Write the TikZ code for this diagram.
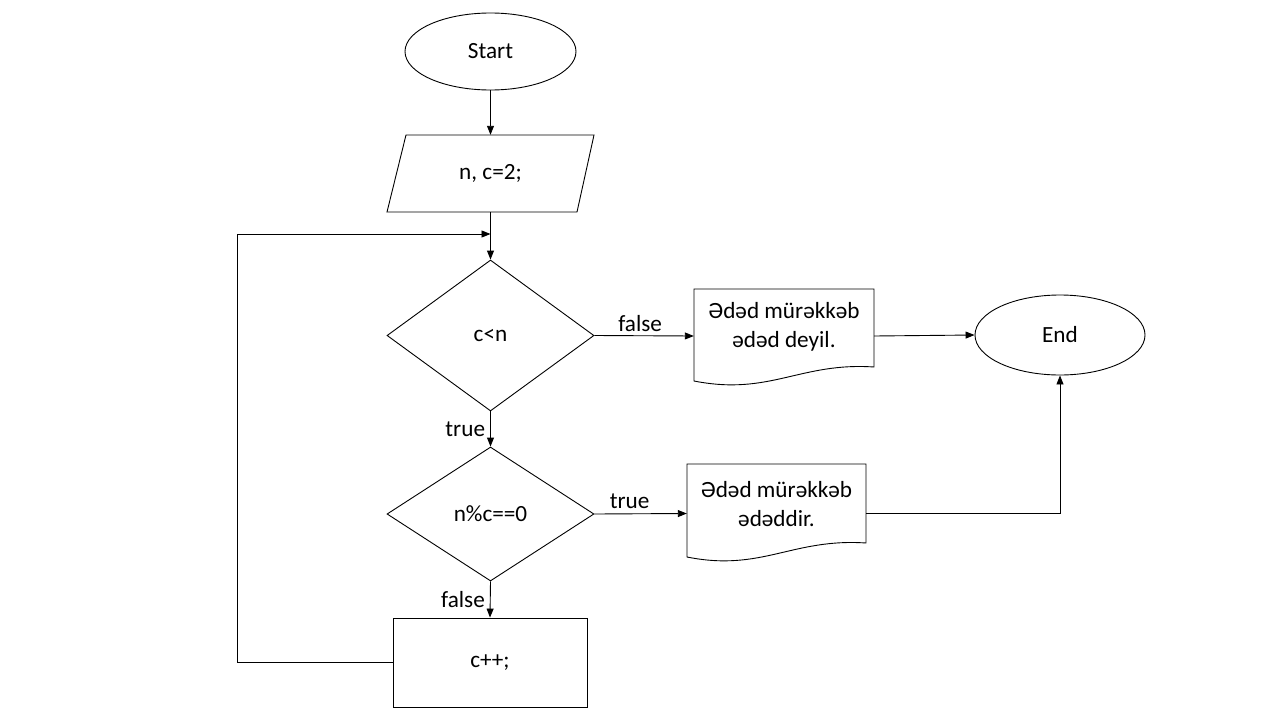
\documentclass[tikz,border=0pt]{standalone}
\usepackage{fontspec}
\setmainfont{Carlito}
\usetikzlibrary{shapes.geometric,arrows.meta}
\begin{document}
\begin{tikzpicture}[x=1pt,y=-1pt,
  every node/.style={font=\fontsize{23.2}{29}\selectfont, inner sep=0pt},
  line/.style={line width=0.9pt, draw=black},
  arr/.style={line, -{Triangle[length=9pt,width=7pt]}},
  term/.style={ellipse, line, minimum width=171pt, minimum height=77pt},
  dec/.style={diamond, line, minimum width=207pt},
  proc/.style={rectangle, line, minimum width=194pt, minimum height=89pt},
  ghost/.style={rectangle, draw=none},
  lbl/.style={font=\fontsize{23.2}{29}\selectfont}
]
\useasboundingbox (0,0) rectangle (1280,720);
\fill[white] (0,0) rectangle (1280,720);

% Start
\node[term] (start) at (490.5,51.5) {Start};
% input parallelogram
\node[ghost, minimum width=190pt, minimum height=77pt] (inp) at (490.5,173.5) {n, c=2;};
\draw[line] (406,135) -- (594,135) -- (577,212) -- (387,212) -- cycle;
% decision 1
\node[dec, minimum height=151pt] (d1) at (490.5,335.5) {c<n};
% decision 2
\node[dec, minimum height=134pt] (d2) at (490.5,514) {n\%c==0};
% process
\node[proc] (cpp) at (490,662.5) {c++;};
% End
\node[term, minimum width=170pt, minimum height=80pt] (end) at (1060,335) {End};

% document 1
\node[ghost, minimum width=180pt, minimum height=92pt] (doc1) at (784,336) {};
\node[align=center] (doc1t) at (784,327) {Ədəd mürəkkəb\\ədəd deyil.};
\draw[line] (694,289) -- (874,289) -- (874,367)
  .. controls (800,362) and (770,396) .. (694,381) -- cycle;

% document 2
\node[ghost, minimum width=179pt, minimum height=92pt] (doc2) at (776.5,513.5) {};
\node[align=center] (doc2t) at (776.5,504) {Ədəd mürəkkəb\\ədəddir.};
\draw[line] (687,464) -- (866,464) -- (866,543)
  .. controls (792,538) and (762,572) .. (687,557) -- cycle;

% connectors
\coordinate (join) at (490.5,234);
\draw[arr] (start.south) -- (inp.north);
\draw[arr] (inp.south) -- (d1.north);
\draw[arr] (d1.east) -- node[lbl, above, yshift=4pt, xshift=-4pt] (lf) {false} (doc1.west);
\draw[arr] (doc1.east) -- (end.west);
\draw[arr] (d1.south) -- node[lbl, left, xshift=-5pt] (lt) {true} (d2.north);
\draw[arr] (d2.east) -- node[lbl, above, yshift=5pt, xshift=-11pt] (lt2) {true} (doc2.west);
\draw[arr] (d2.south) -- node[lbl, left, xshift=-5pt] (lf2) {false} (cpp.north);
\draw[arr] (doc2.east) -| (end.south);
\draw[arr] (cpp.west) -- (237,662.5) |- (join);
\end{tikzpicture}
\end{document}
